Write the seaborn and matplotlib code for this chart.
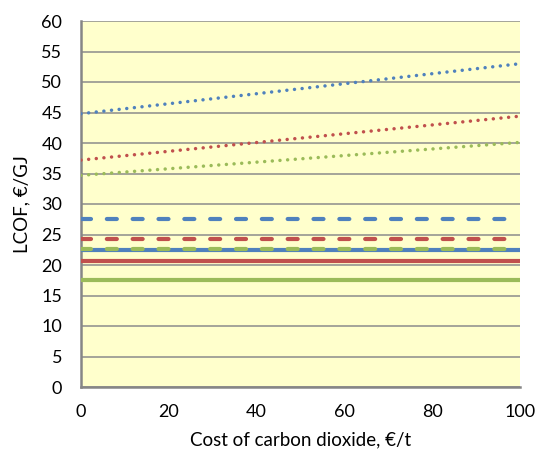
import matplotlib
matplotlib.use("Agg")
import matplotlib.pyplot as plt
import seaborn as sns
import pandas as pd

# CO2 cost axis (€/t)
co2_cost = [0, 100]

# Levelized cost of fuel, €/GJ, per case
blue_dotted = [44.8, 53.0]
red_dotted = [37.2, 44.4]
green_dotted = [34.7, 40.1]
blue_dashed = [27.6, 27.6]
red_dashed = [24.3, 24.3]
blue_solid = [22.5, 22.5]
green_dashed = [22.7, 22.7]
red_solid = [20.6, 20.6]
green_solid = [17.6, 17.6]

BLUE, RED, GREEN = "#4F81BD", "#C0504D", "#9BBB59"

sns.set_theme(style="white")
plt.rcParams["font.family"] = ["Lato", "DejaVu Sans"]

fig = plt.figure(figsize=(5.37, 4.57), dpi=100)
ax = fig.add_axes([81 / 537, 70 / 457, 439 / 537, 366 / 457])
ax.set_facecolor("#FFFFCC")

series = [
    (green_solid, GREEN, "solid"),
    (red_solid, RED, "solid"),
    (blue_solid, BLUE, "solid"),
    (green_dashed, GREEN, "dashed"),
    (red_dashed, RED, "dashed"),
    (blue_dashed, BLUE, "dashed"),
    (green_dotted, GREEN, "dotted"),
    (red_dotted, RED, "dotted"),
    (blue_dotted, BLUE, "dotted"),
]

for values, color, style in series:
    df = pd.DataFrame({"cost": co2_cost, "lcof": values})
    lw = 2.5 if style == "dotted" else 3.0
    sns.lineplot(data=df, x="cost", y="lcof", ax=ax, color=color, lw=lw,
                 zorder=3)
    line = ax.lines[-1]
    if style == "dotted":
        line.set_linestyle((0, (0.01, 2.2)))
        line.set_dash_capstyle("round")
    elif style == "dashed":
        line.set_linestyle((0, (2.4, 3.8)))
        line.set_dash_capstyle("round")
    else:
        line.set_linestyle("-")
        line.set_solid_capstyle("butt")

ax.set_xlim(0, 100)
ax.set_ylim(0, 60)
ax.set_xticks(range(0, 101, 20))
ax.set_yticks(range(0, 61, 5))

ax.yaxis.grid(True, color="#8C8C8C", lw=1.1, zorder=1)
ax.xaxis.grid(False)
ax.set_axisbelow(True)

for side in ("top", "right"):
    ax.spines[side].set_visible(False)
for side in ("left", "bottom"):
    ax.spines[side].set_color("#868686")
    ax.spines[side].set_linewidth(1.8)

ax.tick_params(axis="both", direction="out", length=5.5, width=1.1,
               color="#868686", labelsize=13, labelcolor="black")
ax.tick_params(axis="y", pad=8)
ax.tick_params(axis="x", pad=7)

ax.set_xlabel("Cost of carbon dioxide, €/t", fontsize=13.5, color="black",
              labelpad=8)
ax.set_ylabel("LCOF, €/GJ", fontsize=13.5, color="black", labelpad=8)

fig.savefig("out.png", dpi=100, facecolor="white")
